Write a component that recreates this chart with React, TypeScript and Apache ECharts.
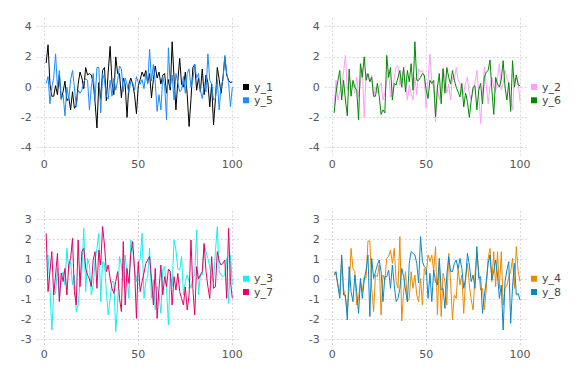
import React, { useEffect, useRef } from "react";
import * as echarts from "echarts";

const xIndex: number[] = Array.from({ length: 100 }, (_, i) => i + 1);

const y1 = [1.6, 2.8, 0.2, -0.6, -0.6, 0.1, -0.5, 0.8, -0.8, -0.3, 0.4, -0.9, -0.7, -1.5, -0.3, -1.4, -1.2, 0.2, 1.0, 0.6, -0.1, 1.3, 0.8, 0.9, 0.8, 0.3, -1.0, -2.7, 0.3, -0.8, 1.1, 1.3, -0.9, 1.0, 2.7, 0.3, -0.5, 2.0, 0.9, 0.9, -0.7, 0.6, 0.2, -2.0, 0.2, 0.6, 0.2, -0.5, -1.75, 0.1, 0.5, 1.0, 0.7, 1.1, 0.3, 0.9, -0.7, 0.5, 1.4, 0.6, 1.0, 0.2, 0.8, 0.9, -0.4, 0.5, -0.2, 3.0, 0.6, -1.5, 0.4, 1.9, 0.2, 0.0, 1.0, -0.5, -2.6, -0.8, 1.3, 1.5, -0.2, 0.6, -0.3, 1.2, -0.5, 0.8, 0.3, -1.3, 0.2, -2.5, -0.8, 1.3, 0.5, -0.4, 0.6, 2.0, 0.8, 0.45, 0.3, 0.35];
const y5 = [0.25, 0.7, -1.1, 0.0, 0.6, 2.2, 0.0, 1.1, -0.8, -0.5, -1.9, 0.0, -0.8, 0.5, 1.1, 0.0, -1.3, -0.2, -0.4, -0.2, 0.35, 0.55, 0.45, -1.5, 0.0, 0.9, -0.8, 1.3, 1.3, -1.7, 0.9, 0.45, -0.6, -0.8, 0.45, -0.6, 0.6, -0.2, 0.45, 1.4, 1.2, -0.3, 0.6, 0.2, -0.4, 0.4, 0.3, -0.2, 0.7, 0.3, 0.2, 0.5, -0.1, 0.9, 0.2, 2.5, 0.4, 1.5, 0.3, -1.6, -0.5, -1.5, 0.7, 0.1, -2.15, 2.6, 0.0, 0.8, -0.85, 0.9, 0.3, -0.3, -0.2, 0.7, -0.4, 0.9, 1.2, 0.0, 0.5, 1.5, 0.6, 0.9, -0.2, -0.75, 0.1, -0.3, 2.2, 0.45, 0.2, -0.85, -0.75, 0.5, -1.5, 0.1, 0.45, 2.1, 0.9, 0.3, -1.3, 0.0];
const y2 = [-1.3, 0.45, -0.85, -0.3, 0.0, 1.0, 2.1, -0.2, 0.65, 0.0, 0.25, -0.4, 0.65, -0.65, 0.3, 1.3, -2.0, 0.9, 0.65, 0.4, 0.8, -0.65, 0.0, -0.4, 0.0, 0.3, -0.85, -0.4, 0.35, 1.1, -0.65, -0.5, 0.65, 1.3, 1.4, 0.13, 0.65, 1.2, 0.2, -0.85, 0.13, -0.4, -0.85, 0.65, -0.5, 1.2, 1.0, 1.1, 0.65, -1.4, 0.45, 2.2, 0.3, 0.0, -2.25, 0.0, -0.85, 0.0, 1.3, 0.65, -0.4, 0.2, -0.85, 0.65, 0.45, 1.3, 0.5, 0.25, -0.4, -0.4, 0.3, 0.65, -0.4, -0.85, -0.3, 0.25, 1.1, -0.4, -2.4, -0.4, 1.3, 0.2, -1.1, 0.0, 0.65, 0.0, -0.3, 0.65, 1.55, -0.2, 0.25, 1.1, 0.6, 0.25, -0.85, -1.5, 0.45, 0.65, 0.3, -0.95];
const y6 = [-1.7, -0.4, 0.45, 1.1, -0.85, 0.45, -0.85, -1.9, 1.2, -0.6, 0.45, 0.0, -0.2, -2.15, 1.55, 0.65, 2.0, 0.45, 0.9, 0.35, 0.65, -0.6, -0.6, 0.25, -0.6, -1.8, -1.5, -1.7, 2.1, 0.65, 1.3, -0.85, 0.25, 0.15, 0.65, 1.1, 0.0, 1.3, -0.3, 1.1, 0.35, 1.55, -0.2, 3.0, 0.45, 0.45, 0.65, 0.9, 0.8, -0.2, -0.75, 0.45, 0.25, 0.45, -1.95, 0.0, 0.9, -1.1, 1.2, -0.4, 1.3, 0.65, 0.2, 1.1, 0.45, 0.0, -0.3, -0.65, 0.25, -1.3, -0.4, -1.0, -2.0, -0.85, 0.0, 0.1, -1.5, -0.2, 0.25, -1.1, 0.65, 1.0, 1.1, 1.8, -0.2, -1.8, 0.65, 0.2, 0.0, 0.5, 1.75, 0.0, -0.85, 0.3, -1.6, 1.75, 0.0, 0.8, 0.15, 0.1];
const y3 = [1.03, 1.2, -0.47, -2.55, -0.8, -0.72, 0.53, -0.97, 0.0, 0.37, -0.3, 1.53, 0.37, 0.87, -0.3, 0.2, -1.63, -1.3, -0.13, 0.37, 2.53, -0.63, 1.03, 0.7, -0.8, -0.3, 0.87, 1.53, 2.28, -1.13, 0.87, 0.78, -0.63, -1.8, -0.97, -0.13, -0.13, -2.63, -1.3, 1.12, 0.7, -0.13, 1.2, 0.2, -0.97, 1.95, 1.53, 0.45, -0.13, 0.78, 1.03, 2.28, -0.97, -0.13, 0.12, 1.53, -0.97, -0.05, -1.55, -0.38, -0.8, -1.72, 0.45, 0.62, -0.47, -2.3, 0.37, -0.38, 1.95, 1.45, 0.5, 0.45, 1.12, -0.8, -0.13, 0.2, -0.13, -0.47, 0.1, 0.2, 2.45, -0.8, 0.2, 0.2, 1.7, 1.37, 1.03, 0.6, 0.03, -0.13, 1.37, 2.62, 0.37, 0.2, 0.12, 0.2, 1.03, -1.22, 1.2, -0.3];
const y7 = [2.28, -0.63, 0.37, 1.37, -0.8, 0.2, 1.28, -1.13, 0.3, -0.13, 0.53, -0.8, 0.7, 1.03, 2.03, -0.63, -1.3, 1.95, -0.38, 1.37, 1.53, 0.53, 0.2, 0.0, -0.38, 0.95, 1.37, -0.47, 1.45, 0.7, 2.62, 1.7, 0.37, 0.7, 0.03, -0.47, -0.72, -0.13, 0.37, -0.97, -1.63, 1.87, -1.3, 0.53, -0.22, 1.28, 1.87, 0.53, -1.97, 0.87, -0.63, -0.13, 0.3, 0.78, 0.95, 1.12, 0.03, -1.3, 0.53, -1.97, -0.47, 0.7, -0.8, 0.12, -0.38, 0.5, 0.37, -1.3, 0.12, -0.55, 0.28, -0.63, -0.97, -1.3, -0.4, -1.55, -0.8, 1.95, -0.47, -1.8, 0.62, 0.0, 0.2, 0.37, 1.78, 0.37, -0.38, -0.97, 1.12, -0.47, -0.38, 1.37, 0.9, 0.7, 0.78, 0.95, -0.97, 2.53, -0.13, -0.97];
const y4 = [0.37, 0.2, -0.3, -0.8, 1.03, -0.47, -0.97, -1.63, -0.47, 1.53, 0.53, 0.37, -1.3, -0.97, -0.13, -0.63, 0.12, 0.03, 1.9, 1.9, -0.47, -1.63, 0.2, 0.12, 0.7, -1.8, 0.2, -0.05, 1.03, 1.12, 1.45, 0.78, 1.53, -0.13, -0.47, 2.12, -2.1, -0.63, 0.37, -1.13, -0.97, 0.37, -0.47, 0.2, -0.8, -1.13, 0.03, -1.3, 0.53, 0.2, 1.2, 0.87, 1.2, 0.4, 1.62, -1.8, 0.87, -1.88, 0.28, -0.13, -1.3, 1.28, -0.13, -2.05, -0.8, -0.97, 0.53, -0.3, 0.2, -1.72, 0.03, 0.78, -0.3, -1.05, -1.55, 0.2, 1.37, 0.37, -0.55, -0.47, -1.55, -0.47, 1.03, 1.53, -0.13, 1.37, -0.38, 1.37, -0.47, 1.37, -1.3, -0.47, -0.3, 0.1, 0.37, 1.03, -0.47, 1.62, 0.37, -0.13];
const y8 = [0.2, 0.37, -0.3, -0.97, 1.2, -0.8, -0.8, -2.05, 0.62, -0.63, -1.13, 0.2, -0.63, -1.72, 0.03, -0.97, -0.05, 0.45, 1.2, -1.88, 1.03, 0.03, 0.37, 0.7, 0.95, 0.37, -1.13, 0.12, 0.12, 0.45, -0.47, 0.7, -0.3, -1.13, -0.97, -0.47, 0.53, 0.12, -0.55, -1.13, 0.78, 1.37, 1.28, 1.2, 0.78, -0.2, 2.12, 0.87, 0.62, 0.53, -0.97, 0.28, -1.13, 0.45, -0.13, -0.3, 1.03, -0.55, -0.47, -1.47, 0.2, 1.12, 0.37, 0.37, 0.78, 0.95, 0.5, 1.03, 0.53, -0.47, 0.03, 1.28, 0.7, -0.13, 0.2, -0.47, 1.62, 0.03, 0.12, -1.72, -0.8, -0.13, 0.78, 1.2, -0.05, 0.4, 0.95, 0.2, -0.97, -0.3, -2.55, -0.13, 0.45, 0.87, -2.22, -0.38, 0.78, -0.8, -0.72, -1.05];

const xTicks = [0, 50, 100];
const yTicksTop = [-4, -2, 0, 2, 4];
const yTicksBottom = [-3, -2, -1, 0, 1, 2, 3];

const FONT = "DejaVu Sans";
const GRID_COLOR = "#d6d6e4";
const LABEL_COLOR = "#555555";

function pairs(ys: number[]) {
  return ys.map((v, i) => [xIndex[i], v]);
}

export default function App() {
  const ref = useRef<HTMLDivElement>(null);
  useEffect(() => {
    if (!ref.current) return;
    const chart = echarts.init(ref.current, undefined, { renderer: "svg" });

    const grids = [
      { left: 36.7, top: 18.3, width: 202.6, height: 137.7 },
      { left: 324.7, top: 18.3, width: 202.3, height: 137.7 },
      { left: 36.7, top: 211, width: 202.6, height: 135 },
      { left: 324.7, top: 211, width: 202.3, height: 135 },
    ];

    const splitLine = { show: true, lineStyle: { color: GRID_COLOR, type: [2, 2] as any, width: 1 } };

    const xAxes = grids.map((_, gi) => ({
      type: "value",
      gridIndex: gi,
      min: -4.04,
      max: 103.7,
      axisLine: { show: false },
      axisTick: { show: false, customValues: xTicks },
      axisLabel: { customValues: xTicks, color: LABEL_COLOR, fontFamily: FONT, fontSize: 11, margin: 3 },
      splitLine,
    }));
    const yAxes = grids.map((_, gi) => {
      const top = gi < 2;
      const ticks = top ? yTicksTop : yTicksBottom;
      return {
        type: "value",
        gridIndex: gi,
        min: top ? -4.55 : -3.35,
        max: top ? 4.55 : 3.4,
        axisLine: { show: false },
        axisTick: { show: false, customValues: ticks },
        axisLabel: { customValues: ticks, color: LABEL_COLOR, fontFamily: FONT, fontSize: 11, margin: 5 },
        splitLine,
      };
    });

    const mk = (name: string, data: number[], color: string, gi: number) => ({
      name,
      type: "line",
      xAxisIndex: gi,
      yAxisIndex: gi,
      data: pairs(data),
      showSymbol: false,
      symbol: "none",
      color,
      lineStyle: { color, width: 1 },
      emphasis: { disabled: true },
    });

    const legendBase = {
      orient: "vertical",
      icon: "rect",
      itemWidth: 6,
      itemHeight: 6,
      itemGap: 2.3,
      padding: 0,
      textStyle: { fontFamily: FONT, fontSize: 11, color: "#444444", lineHeight: 11 },
    };

    chart.setOption({
      animation: false,
      backgroundColor: "#ffffff",
      grid: grids,
      xAxis: xAxes,
      yAxis: yAxes,
      legend: [
        { ...legendBase, data: ["y_1", "y_5"], left: 243, top: 81.5 },
        { ...legendBase, data: ["y_2", "y_6"], left: 531, top: 81.5 },
        { ...legendBase, data: ["y_3", "y_7"], left: 243, top: 273.2 },
        { ...legendBase, data: ["y_4", "y_8"], left: 531, top: 273.2 },
      ],
      series: [
        mk("y_1", y1, "#000000", 0),
        mk("y_5", y5, "#1a8cff", 0),
        mk("y_2", y2, "#ff9cff", 1),
        mk("y_6", y6, "#008c00", 1),
        mk("y_3", y3, "#14f0f0", 2),
        mk("y_7", y7, "#e6006b", 2),
        mk("y_4", y4, "#ec8a00", 3),
        mk("y_8", y8, "#0a88c8", 3),
      ],
    });
    return () => chart.dispose();
  }, []);

  return (
    <div style={{ position: "absolute", left: 0, top: 0, width: 576, height: 384, background: "#fff" }}>
      <div ref={ref} style={{ width: 576, height: 384 }} />
    </div>
  );
}
